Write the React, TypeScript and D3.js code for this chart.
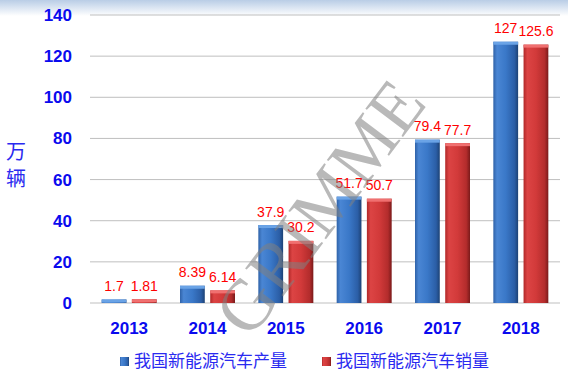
import React from "react";
import * as d3 from "d3";

const years = ["2013", "2014", "2015", "2016", "2017", "2018"];
const production = [1.7, 8.39, 37.9, 51.7, 79.4, 127];
const sales = [1.81, 6.14, 30.2, 50.7, 77.7, 125.6];
const productionLabels = ["1.7", "8.39", "37.9", "51.7", "79.4", "127"];
const salesLabels = ["1.81", "6.14", "30.2", "50.7", "77.7", "125.6"];
const yTicks = [0, 20, 40, 60, 80, 100, 120, 140];
const seriesNames = ["我国新能源汽车产量", "我国新能源汽车销量"];

const W = 568;
const H = 375;
const left = 90;
const right = 560;
const top = 15;
const bottom = 303;

export default function App() {
  const x = d3.scaleBand<string>().domain(years).range([left, right]).paddingInner(0).paddingOuter(0);
  const y = d3.scaleLinear().domain([0, 140]).range([bottom, top]);
  const sub = d3.scaleBand<string>().domain(["p", "s"]).range([0, 55]).paddingInner(0.18);
  const groupOffset = (x.bandwidth() - 55) / 2;
  const bw = sub.bandwidth();
  const font = "'Liberation Sans', Arial, sans-serif";
  const cjk = "'Noto Sans CJK SC', sans-serif";

  const series = [
    { key: "p", values: production, labels: productionLabels, grad: "gBlue", cap: "#6aa3e6" },
    { key: "s", values: sales, labels: salesLabels, grad: "gRed", cap: "#f07070" },
  ];

  return (
    <svg width={W} height={H} style={{ position: "absolute", left: 0, top: 0, background: "#fff" }}>
      <defs>
        <linearGradient id="banner" x1="0" y1="0" x2="0" y2="1">
          <stop offset="0" stopColor="#b9cde6" />
          <stop offset="1" stopColor="#ffffff" />
        </linearGradient>
        <linearGradient id="gBlue" x1="0" y1="0" x2="1" y2="0">
          <stop offset="0" stopColor="#2f62a8" />
          <stop offset="0.15" stopColor="#4a86d4" />
          <stop offset="0.5" stopColor="#3a78c8" />
          <stop offset="0.85" stopColor="#2b5ea6" />
          <stop offset="1" stopColor="#1d4275" />
        </linearGradient>
        <linearGradient id="gRed" x1="0" y1="0" x2="1" y2="0">
          <stop offset="0" stopColor="#b02828" />
          <stop offset="0.15" stopColor="#dc4444" />
          <stop offset="0.5" stopColor="#d23a3a" />
          <stop offset="0.85" stopColor="#b32c2c" />
          <stop offset="1" stopColor="#7a1a1a" />
        </linearGradient>
      </defs>
      <rect x={0} y={0} width={W} height={16} fill="url(#banner)" />
      {yTicks.map((t) => (
        <g key={t}>
          <line x1={left} x2={right} y1={y(t)} y2={y(t)} stroke="#bfbfbf" strokeWidth={1} />
          <text x={72} y={y(t) + 6} textAnchor="end" fill="#0a0aee" fontFamily={font} fontWeight="bold" fontSize={17}>
            {t}
          </text>
        </g>
      ))}
      <text x={16} y={159} textAnchor="middle" fill="#2a2af0" fontFamily={cjk} fontSize={20}>万</text>
      <text x={16} y={186} textAnchor="middle" fill="#2a2af0" fontFamily={cjk} fontSize={20}>辆</text>
      {years.map((yr, i) => (
        <g key={yr}>
          {series.map((s) => {
            const bx = (x(yr) as number) + groupOffset + (sub(s.key) as number);
            const by = y(s.values[i]);
            const h = bottom - by;
            return (
              <g key={s.key}>
                <rect x={bx} y={by} width={bw} height={h} fill={`url(#${s.grad})`} />
                <rect x={bx} y={by} width={bw} height={Math.min(3, h)} fill={s.cap} />
                <text x={bx + bw / 2} y={by - 8.5} textAnchor="middle" fill="#ff0000" fontFamily={font} fontSize={14}>
                  {s.labels[i]}
                </text>
              </g>
            );
          })}
          <text x={(x(yr) as number) + x.bandwidth() / 2} y={334} textAnchor="middle" fill="#0a0aee" fontFamily={font} fontWeight="bold" fontSize={17}>
            {yr}
          </text>
        </g>
      ))}
      <text
        transform="translate(326,212) rotate(-53)"
        textAnchor="middle"
        dominantBaseline="middle"
        fill="#808080"
        fillOpacity={0.55}
        fontFamily="'Liberation Serif', 'Times New Roman', serif"
        fontSize={72}
      >
        GRIMME
      </text>
      {seriesNames.map((n, i) => {
        const lx = i === 0 ? 120 : 322;
        return (
          <g key={n}>
            <rect x={lx} y={357} width={9} height={9} fill={i === 0 ? "url(#gBlue)" : "url(#gRed)"} />
            <text x={lx + 14} y={367} fill="#2a2af0" fontFamily={cjk} fontSize={17}>
              {n}
            </text>
          </g>
        );
      })}
    </svg>
  );
}
